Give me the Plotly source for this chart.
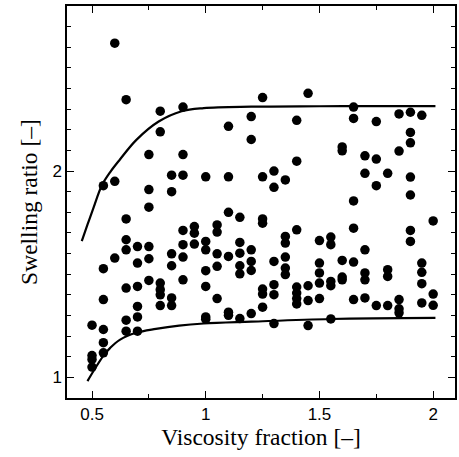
import plotly.graph_objects as go

# Scatter data: viscosity fraction columns and swelling ratios
x_cols = [0.5, 0.55, 0.6, 0.65, 0.7, 0.75, 0.8, 0.85, 0.9, 0.95, 1.0, 1.05, 1.1, 1.15, 1.2,
          1.25, 1.3, 1.35, 1.4, 1.45, 1.5, 1.55, 1.6, 1.65, 1.7, 1.75, 1.8, 1.85, 1.9, 1.95, 2.0]
y_cols = [
    [1.253, 1.106, 1.087, 1.05],
    [1.929, 1.527, 1.377, 1.232, 1.168, 1.119],
    [2.62, 1.95, 1.578],
    [2.346, 1.768, 1.667, 1.618, 1.433, 1.277, 1.224],
    [1.634, 1.554, 1.441, 1.344, 1.293, 1.224],
    [2.08, 1.91, 1.825, 1.634, 1.575, 1.47],
    [2.29, 2.19, 1.457, 1.425, 1.40, 1.348],
    [1.98, 1.90, 1.599, 1.541, 1.385, 1.348],
    [2.31, 2.08, 1.98, 1.712, 1.643, 1.583, 1.473],
    [1.731, 1.699, 1.646],
    [1.972, 1.659, 1.618, 1.517, 1.441, 1.293, 1.282],
    [1.739, 1.704, 1.599, 1.538, 1.382],
    [2.217, 1.972, 1.80, 1.586, 1.316, 1.301],
    [1.776, 1.654, 1.602, 1.541, 1.502, 1.285],
    [2.264, 2.153, 1.618, 1.562, 1.518, 1.309],
    [2.356, 1.972, 1.768, 1.747, 1.428, 1.404, 1.34],
    [2.0, 1.921, 1.562, 1.449, 1.401, 1.261],
    [1.957, 1.683, 1.651, 1.583, 1.53, 1.498],
    [2.246, 2.048, 1.715, 1.438, 1.409, 1.382, 1.356],
    [2.377, 1.444, 1.372, 1.251],
    [1.663, 1.554, 1.506, 1.457, 1.382],
    [1.68, 1.643, 1.465, 1.444, 1.283],
    [2.117, 2.098, 1.567, 1.486, 1.473],
    [2.31, 2.255, 1.855, 1.723, 1.559, 1.377],
    [2.074, 1.989, 1.618, 1.506, 1.473, 1.385],
    [2.24, 2.058, 1.929, 1.348],
    [1.989, 1.522, 1.489, 1.348],
    [2.277, 2.097, 1.377, 1.332, 1.313],
    [2.285, 2.187, 2.137, 1.971, 1.884, 1.712, 1.659],
    [2.27, 1.554, 1.509, 1.454, 1.361],
    [1.758, 1.404, 1.349],
]

# Envelope curves
upper_x = [0.455, 0.48, 0.506, 0.543, 0.58, 0.622, 0.694, 0.793, 0.894, 0.991, 1.2, 1.5, 1.8, 2.01]
upper_y = [1.66, 1.74, 1.82, 1.93, 1.995, 2.055, 2.15, 2.24, 2.29, 2.305, 2.312, 2.314, 2.315, 2.315]
lower_x = [0.48, 0.51, 0.549, 0.58, 0.622, 0.694, 0.781, 0.883, 0.991, 1.2, 1.55, 2.01]
lower_y = [0.982, 1.037, 1.103, 1.143, 1.182, 1.216, 1.235, 1.251, 1.261, 1.27, 1.283, 1.288]

x_ticks = [0.5, 1, 1.5, 2]
x_ticktext = ["0.5", "1", "1.5", "2"]
y_ticks = [1, 2]
y_ticktext = ["1", "2"]

xs, ys = [], []
for xv, col in zip(x_cols, y_cols):
    for yv in col:
        xs.append(xv)
        ys.append(yv)

fig = go.Figure()
fig.add_trace(go.Scatter(x=xs, y=ys, mode="markers",
                         marker=dict(color="black", size=9.5), showlegend=False))
fig.add_trace(go.Scatter(x=upper_x, y=upper_y, mode="lines", line_shape="spline",
                         line=dict(color="black", width=2.2), showlegend=False))
fig.add_trace(go.Scatter(x=lower_x, y=lower_y, mode="lines", line_shape="spline",
                         line=dict(color="black", width=2.2), showlegend=False))

axis_common = dict(
    showline=True, linecolor="black", linewidth=1.5, mirror="ticks",
    ticks="inside", ticklen=7, tickwidth=1, tickcolor="black",
    showgrid=False, zeroline=False,
    tickfont=dict(family="Liberation Sans", size=17, color="black"),
)

fig.update_layout(
    width=459, height=457,
    margin=dict(l=67, r=2, t=6, b=59),
    plot_bgcolor="white", paper_bgcolor="white",
    hovermode=False,
    xaxis=dict(range=[0.39, 2.096], tickvals=x_ticks, ticktext=x_ticktext,
               minor=dict(ticks="inside", dtick=0.25, tick0=0, ticklen=4, tickcolor="black"),
               title=dict(text="Viscosity fraction [–]", standoff=4,
                          font=dict(family="Liberation Serif", size=23.5, color="black")),
               **axis_common),
    yaxis=dict(range=[0.9, 2.8], tickvals=y_ticks, ticktext=y_ticktext,
               minor=dict(ticks="inside", dtick=0.1, tick0=0, ticklen=4, tickcolor="black"),
               title=dict(text="Swelling ratio [–]", standoff=8,
                          font=dict(family="Liberation Serif", size=23.5, color="black")),
               **axis_common),
)

fig.write_html("out.html", config={"displayModeBar": False},
               post_script="document.body.style.margin='0';")
